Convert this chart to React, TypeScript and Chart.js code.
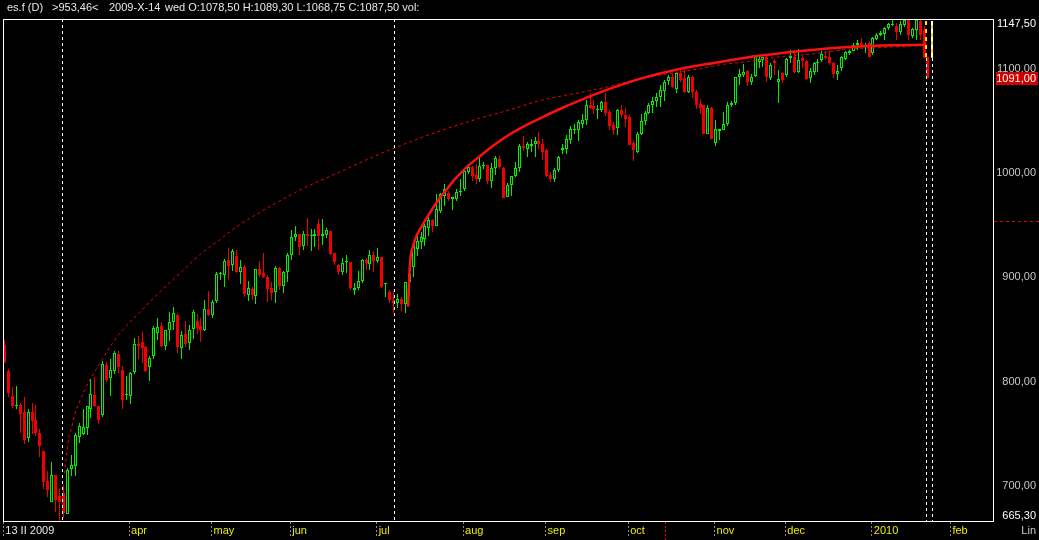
import React, { useEffect, useRef } from 'react';
import { Chart, registerables } from 'chart.js';

Chart.register(...registerables);

// ---- Daily bars (ES continuous), index 0 = 13 II 2009 ----
const opens = [
  834.6, 810.5, 786.3, 776.7, 777.6, 770.8, 745.4, 770.8, 763.1, 750.9,
  733.2, 704.2, 684.2, 710.0, 690.0, 692.9, 672.6, 716.0, 718.7, 747.0,
  749.3, 755.7, 773.4, 787.3, 776.7, 768.0, 816.2, 803.4, 810.5, 826.6,
  811.0, 786.6, 785.7, 808.9, 835.6, 838.1, 833.0, 813.7, 824.3, 846.5,
  853.6, 834.0, 849.1, 857.2, 863.6, 832.4, 845.9, 837.2, 850.7, 857.8,
  853.0, 849.1, 869.4, 863.6, 877.1, 903.2, 902.2, 916.7, 911.9, 920.0,
  905.4, 909.3, 882.9, 888.4, 882.2, 908.0, 903.8, 900.0, 889.3, 886.1,
  908.7, 891.9, 904.5, 920.9, 938.6, 941.8, 929.6, 941.8, 939.6, 939.2,
  950.5, 939.9, 940.9, 944.7, 923.1, 911.9, 905.4, 914.1, 914.4, 888.0,
  889.3, 896.7, 916.0, 912.5, 921.5, 915.1, 919.3, 893.2, 886.1, 878.1,
  875.5, 878.7, 874.2, 895.0, 909.6, 927.0, 933.4, 936.7, 947.3, 954.4,
  949.5, 963.4, 977.9, 981.1, 974.7, 974.7, 981.7, 984.3, 1001.1, 1005.3,
  997.9, 994.0, 1007.0, 1007.6, 992.4, 1004.4, 1013.4, 1004.7, 977.0, 988.6,
  997.3, 1004.4, 1025.6, 1023.0, 1025.6, 1027.2, 1030.4, 1027.9, 1022.1, 997.9,
  994.0, 1002.7, 1022.0, 1023.0, 1031.7, 1040.7, 1041.4, 1047.2, 1050.4, 1064.9,
  1063.9, 1060.0, 1060.0, 1067.5, 1058.4, 1046.2, 1043.3, 1060.7, 1055.9, 1053.6,
  1028.5, 1019.8, 1036.9, 1049.4, 1057.8, 1064.9, 1069.1, 1072.9, 1078.5, 1088.4,
  1091.6, 1080.3, 1095.5, 1090.6, 1077.8, 1092.3, 1077.8, 1065.9, 1064.9, 1037.5,
  1062.6, 1028.5, 1040.1, 1041.4, 1047.0, 1065.0, 1066.5, 1092.2, 1093.8, 1098.0,
  1087.4, 1092.9, 1106.7, 1108.3, 1111.5, 1090.6, 1107.7, 1087.4, 1096.1, 1093.8,
  1110.0, 1110.9, 1097.0, 1110.0, 1107.7, 1090.6, 1097.0, 1105.1, 1108.3, 1112.2,
  1111.5, 1105.1, 1094.5, 1100.3, 1109.0, 1114.8, 1117.3, 1122.8, 1124.4, 1121.2,
  1124.4, 1114.8, 1128.3, 1132.5, 1133.4, 1138.9, 1141.5, 1141.2, 1134.7, 1142.1,
  1147.0, 1130.9, 1137.3, 1145.4, 1137.3, 1111.5,
];
const highs = [
  839.4, 811.7, 795.0, 796.0, 778.9, 785.3, 773.4, 778.9, 777.6, 754.1,
  733.2, 713.9, 722.5, 710.6, 697.7, 701.0, 717.1, 730.0, 750.9, 759.9,
  773.4, 776.7, 802.4, 804.0, 776.7, 819.5, 818.5, 821.7, 829.2, 828.8,
  815.0, 805.6, 809.5, 841.7, 843.3, 847.8, 833.6, 824.6, 853.3, 860.4,
  856.8, 849.1, 866.2, 871.0, 865.2, 848.1, 857.8, 853.9, 868.4, 864.6,
  860.4, 878.1, 886.8, 878.1, 904.8, 905.0, 917.4, 928.0, 927.0, 925.7,
  916.7, 911.9, 896.4, 891.0, 908.0, 915.7, 923.1, 902.2, 895.8, 910.9,
  909.6, 906.1, 923.1, 945.7, 948.9, 941.8, 944.7, 956.9, 946.3, 946.3,
  955.3, 956.0, 947.3, 944.7, 923.1, 912.8, 918.3, 921.5, 914.4, 894.2,
  906.1, 917.7, 918.3, 925.7, 924.8, 928.0, 919.3, 894.8, 887.7, 886.8,
  883.5, 880.6, 895.8, 905.0, 932.8, 940.9, 943.1, 950.5, 957.9, 955.3,
  979.5, 981.1, 989.2, 982.7, 976.9, 985.0, 994.0, 1003.6, 1006.9, 1006.9,
  1008.5, 1016.0, 1010.1, 1007.6, 1009.2, 1016.0, 1016.0, 1005.3, 989.9, 997.3,
  1010.1, 1027.9, 1035.3, 1029.5, 1032.7, 1034.3, 1039.1, 1032.0, 1023.0, 1000.5,
  1004.4, 1016.6, 1027.9, 1035.9, 1044.6, 1047.2, 1050.4, 1056.8, 1069.7, 1076.2,
  1069.7, 1064.9, 1069.1, 1076.2, 1060.0, 1048.8, 1061.7, 1064.9, 1062.6, 1055.2,
  1030.4, 1039.1, 1056.8, 1059.4, 1066.5, 1072.9, 1076.8, 1084.2, 1089.3, 1093.9,
  1096.1, 1097.1, 1100.3, 1098.7, 1093.9, 1092.9, 1079.4, 1070.4, 1065.5, 1064.9,
  1063.3, 1050.4, 1042.4, 1058.4, 1068.0, 1069.0, 1092.2, 1099.3, 1104.4, 1098.7,
  1094.8, 1113.1, 1112.2, 1111.5, 1113.1, 1105.1, 1109.0, 1098.7, 1097.0, 1109.9,
  1118.0, 1118.0, 1118.6, 1113.1, 1108.3, 1100.3, 1106.7, 1109.0, 1117.3, 1116.4,
  1117.3, 1106.1, 1103.5, 1112.2, 1116.4, 1118.0, 1124.4, 1127.6, 1129.3, 1124.4,
  1126.0, 1130.2, 1134.1, 1135.7, 1139.9, 1143.7, 1147.5, 1143.7, 1145.4, 1147.5,
  1147.0, 1138.9, 1147.5, 1147.0, 1140.5, 1111.5,
];
const lows = [
  817.5, 784.7, 775.0, 773.4, 750.9, 739.6, 742.2, 749.3, 747.7, 727.4,
  697.1, 689.1, 684.2, 674.6, 665.5, 669.0, 672.6, 709.0, 709.0, 740.6,
  748.6, 748.6, 764.7, 776.0, 759.6, 766.0, 799.8, 785.7, 807.3, 807.9,
  774.1, 782.5, 778.2, 807.3, 821.1, 817.6, 808.9, 800.8, 821.7, 839.4,
  833.0, 829.8, 838.8, 849.1, 827.2, 821.7, 833.0, 829.8, 840.4, 845.9,
  837.8, 848.1, 862.6, 861.0, 874.9, 897.0, 891.0, 897.4, 906.4, 903.8,
  893.5, 881.0, 877.4, 878.1, 874.2, 900.6, 899.0, 876.5, 878.1, 875.5,
  887.7, 885.1, 895.8, 916.1, 934.4, 921.5, 926.4, 930.2, 924.8, 928.9,
  926.4, 931.2, 937.6, 921.5, 911.9, 902.2, 902.2, 903.8, 887.7, 882.9,
  887.7, 894.2, 907.0, 907.0, 905.4, 913.5, 889.3, 881.3, 874.9, 865.2,
  870.0, 867.4, 865.2, 889.0, 900.0, 919.9, 927.0, 930.2, 939.2, 943.1,
  948.9, 961.8, 968.2, 973.0, 964.4, 973.0, 977.9, 982.7, 998.8, 992.4,
  989.2, 990.8, 1003.7, 989.2, 985.4, 998.2, 1003.7, 975.7, 977.0, 978.0,
  995.7, 1000.5, 1021.4, 1015.0, 1019.8, 1015.0, 1023.0, 1012.4, 995.7, 991.5,
  991.5, 1000.5, 1018.2, 1018.2, 1027.2, 1037.5, 1030.4, 1043.3, 1045.6, 1061.0,
  1056.8, 1052.0, 1058.4, 1054.6, 1040.7, 1035.9, 1035.9, 1053.0, 1044.0, 1026.3,
  1011.8, 1018.8, 1035.9, 1045.6, 1056.8, 1057.8, 1063.3, 1063.3, 1068.75, 1084.2,
  1081.0, 1076.8, 1087.4, 1076.8, 1076.8, 1071.3, 1061.7, 1056.8, 1037.0, 1036.9,
  1032.0, 1025.3, 1031.7, 1040.7, 1045.0, 1063.0, 1064.9, 1084.2, 1092.2, 1083.2,
  1084.2, 1092.2, 1100.3, 1101.9, 1087.4, 1089.0, 1093.8, 1066.5, 1085.8, 1092.2,
  1105.7, 1096.1, 1096.1, 1100.3, 1089.0, 1085.8, 1093.8, 1097.0, 1106.7, 1108.3,
  1103.5, 1090.6, 1089.0, 1098.0, 1108.3, 1113.1, 1116.4, 1118.0, 1120.2, 1114.8,
  1110.9, 1113.1, 1127.0, 1130.9, 1127.6, 1137.3, 1140.5, 1127.6, 1132.5, 1139.9,
  1127.6, 1129.3, 1127.6, 1127.6, 1109.9, 1090.6,
];
const closes = [
  818.5, 788.6, 776.7, 777.6, 768.6, 743.8, 770.8, 762.2, 750.9, 738.0,
  703.6, 695.5, 710.6, 686.5, 684.0, 673.5, 715.5, 720.0, 748.6, 757.3,
  756.3, 776.7, 787.9, 776.7, 762.8, 816.9, 801.8, 811.0, 827.5, 814.3,
  782.5, 787.3, 808.2, 836.2, 834.0, 831.7, 809.8, 822.7, 851.7, 852.3,
  834.0, 849.1, 857.5, 865.2, 833.0, 844.9, 836.2, 849.7, 866.8, 851.4,
  849.1, 869.4, 863.6, 876.5, 903.2, 904.0, 915.1, 910.3, 924.8, 905.0,
  909.6, 883.9, 889.7, 882.9, 908.0, 902.2, 900.0, 888.7, 884.5, 908.7,
  891.6, 904.8, 921.2, 938.6, 941.5, 928.9, 941.8, 939.9, 940.3, 941.8,
  939.9, 941.8, 945.7, 922.5, 914.1, 905.4, 913.5, 915.7, 889.3, 889.9,
  896.4, 916.0, 913.5, 921.5, 915.7, 919.3, 891.0, 894.8, 878.1, 874.9,
  879.0, 874.2, 895.1, 903.0, 931.2, 934.4, 938.6, 948.9, 954.4, 948.9,
  965.0, 979.5, 984.3, 974.7, 976.9, 981.7, 982.7, 1002.0, 1005.3, 997.2,
  994.0, 1006.3, 1007.9, 992.4, 1004.4, 1014.0, 1005.3, 976.3, 988.3, 996.6,
  1004.4, 1025.6, 1024.0, 1027.2, 1027.9, 1030.4, 1027.2, 1019.8, 996.6, 994.0,
  1002.7, 1015.0, 1024.0, 1032.7, 1042.4, 1042.4, 1048.8, 1050.4, 1064.9, 1062.6,
  1061.0, 1061.6, 1067.5, 1057.8, 1044.6, 1041.4, 1060.7, 1055.2, 1052.0, 1026.9,
  1022.1, 1037.5, 1049.8, 1057.8, 1064.9, 1069.1, 1072.9, 1079.4, 1087.5, 1091.6,
  1082.6, 1095.5, 1089.0, 1077.8, 1092.3, 1077.1, 1064.9, 1062.6, 1037.5, 1062.6,
  1032.7, 1042.4, 1042.4, 1047.2, 1064.9, 1066.5, 1092.2, 1094.8, 1097.0, 1087.4,
  1092.2, 1113.1, 1108.9, 1110.9, 1092.2, 1103.5, 1105.7, 1089.6, 1089.0, 1109.0,
  1112.2, 1097.0, 1108.3, 1107.7, 1089.6, 1098.0, 1105.1, 1106.7, 1113.8, 1109.9,
  1105.1, 1094.5, 1098.0, 1111.5, 1115.4, 1117.3, 1122.8, 1124.4, 1121.2, 1122.8,
  1111.5, 1129.3, 1132.5, 1134.1, 1138.9, 1143.1, 1143.1, 1134.7, 1143.1, 1147.0,
  1132.5, 1137.9, 1147.0, 1132.5, 1109.9, 1091.0,
];

// ---- Date axis ----
const monthTickIdx = [0, 32, 53, 73, 95, 117, 138, 159, 181, 199, 221, 241];
const monthTickLabels = ['13 II 2009', 'apr', 'may', 'jun', 'jul', 'aug', 'sep', 'oct', 'nov', 'dec', '2010', 'feb'];

// ---- Price axis ----
const priceTicks = [700, 800, 900, 1000, 1100];
const priceMin = 665.3;
const priceMax = 1147.5;

// ---- Fitted curves (bar index, price) ----
const trendIdx = [102.7, 103.2, 104.0, 104.9, 106.2, 107.8, 109.5, 111.2, 112.9, 114.6, 116.3, 118.0, 119.7, 124.0, 128.2, 132.4, 136.7, 140.9, 145.2, 153.6, 162.1, 170.6, 179.1, 189.3, 197.8, 206.2, 214.7, 223.2, 234.6];
const trendVal = [871.6, 914.0, 930.0, 940.0, 949.0, 959.0, 969.0, 978.0, 986.0, 994.0, 1000.5, 1007.0, 1012.0, 1025.0, 1036.0, 1045.0, 1053.0, 1060.5, 1067.5, 1080.0, 1090.6, 1098.7, 1104.5, 1110.9, 1114.8, 1118.0, 1120.6, 1122.2, 1122.8];

const arcIdx = [15.3, 16.2, 17.1, 17.9, 19.2, 20.9, 22.6, 24.3, 26.8, 29.4, 34.5, 39.6, 44.7, 49.7, 54.8, 58.7, 67.1, 75.6, 84.1, 92.6, 106.2, 119.7, 128.2, 136.7, 145.2, 153.6, 162.1, 174.9, 183.3, 189.3, 197.8, 206.2, 214.7, 223.2, 234.6];
const arcVal = [712.0, 742.8, 755.7, 768.6, 781.4, 795.9, 807.2, 817.5, 832.9, 846.5, 866.8, 886.1, 903.9, 921.5, 936.0, 947.3, 966.7, 984.3, 998.8, 1013.3, 1034.0, 1051.0, 1060.0, 1069.7, 1076.1, 1082.6, 1090.6, 1098.7, 1104.2, 1106.7, 1111.5, 1114.1, 1118.6, 1120.2, 1122.2];

// ---- Markers / cursor ----
const markerIdx = [14.6, 99.2, 234.6, 236.1];
const endMarkerPrice = 1110;
const cursorIdx = 168;
const cursorPrice = 953.46;
const lastPrice = 1091.0;
const cursorDate = '2009-X-14';
const cursorDay = 'wed';
const symbol = 'es.f (D)';

const X_MIN = -0.38;
const X_MAX = 251.8;

const GREEN = '#00f000';
const RED = '#f00000';
const FONT = '11px "Liberation Sans", Arial, sans-serif';

const fmt = (v: number) => v.toFixed(2).replace('.', ',');
const isUp = (i: number) => closes[i] >= opens[i];

const overlayPlugin = {
  id: 'overlay',
  beforeDraw(chart: any) {
    const { ctx, width, height } = chart;
    ctx.save();
    ctx.fillStyle = '#000';
    ctx.fillRect(0, 0, width, height);
    ctx.restore();
  },
  beforeDatasetsDraw(chart: any) {
    chart.data.datasets.forEach((ds: any, di: number) => {
      if (ds.type !== 'bar') return;
      const meta = chart.getDatasetMeta(di);
      meta.data.forEach((el: any) => {
        el.x = Math.floor(el.x) + 0.5;
        el.y = Math.round(el.y);
        el.base = Math.round(el.base);
      });
    });
  },
  afterDatasetsDraw(chart: any) {
    const { ctx, chartArea } = chart;
    const xs = chart.scales.x;
    const ys = chart.scales.y;
    const { top, bottom, left, right } = chartArea;
    ctx.save();
    ctx.beginPath();
    ctx.rect(left, top, right - left, bottom - top);
    ctx.clip();
    markerIdx.forEach((m, k) => {
      const isEnd = k >= 2;
      const splitY = isEnd ? Math.round(ys.getPixelForValue(endMarkerPrice)) : top;
      const px = Math.round(xs.getPixelForValue(m)) + 0.5;
      ctx.setLineDash([3, 3]);
      ctx.lineWidth = 1;
      ctx.strokeStyle = '#ffffff';
      ctx.beginPath();
      ctx.moveTo(px, splitY);
      ctx.lineTo(px, bottom);
      ctx.stroke();
      if (isEnd) {
        const p2 = Math.round(xs.getPixelForValue(m));
        ctx.lineWidth = 2;
        if (k === 3) {
          ctx.setLineDash([4, 4]);
          ctx.strokeStyle = '#ffffff';
          ctx.beginPath();
          ctx.moveTo(p2, top + 2);
          ctx.lineTo(p2, splitY);
          ctx.stroke();
          ctx.lineDashOffset = 4;
        }
        ctx.setLineDash([4, 4]);
        ctx.strokeStyle = '#ffe000';
        ctx.beginPath();
        ctx.moveTo(p2, top + 2);
        ctx.lineTo(p2, splitY);
        ctx.stroke();
        ctx.lineDashOffset = 0;
      }
    });
    ctx.restore();
  },
  afterDraw(chart: any) {
    const { ctx, chartArea, width, height } = chart;
    const xs = chart.scales.x;
    const ys = chart.scales.y;
    const { top, bottom, left, right } = chartArea;
    ctx.save();
    // frame
    ctx.setLineDash([]);
    ctx.strokeStyle = '#ffffff';
    ctx.lineWidth = 1;
    ctx.strokeRect(left + 0.5, top + 0.5, right - left - 1, bottom - top - 1);

    // cursor marks
    ctx.strokeStyle = '#e00000';
    ctx.setLineDash([2, 2]);
    const cx = Math.round(xs.getPixelForValue(cursorIdx)) + 0.5;
    ctx.beginPath();
    ctx.moveTo(cx, bottom);
    ctx.lineTo(cx, height);
    ctx.stroke();
    const cy = Math.round(ys.getPixelForValue(cursorPrice)) + 0.5;
    ctx.setLineDash([3, 3]);
    ctx.beginPath();
    ctx.moveTo(right, cy);
    ctx.lineTo(width, cy);
    ctx.stroke();
    ctx.setLineDash([]);

    ctx.font = FONT;
    ctx.textBaseline = 'middle';

    // last price box
    const ly = Math.round(ys.getPixelForValue(lastPrice));
    ctx.fillStyle = '#d00000';
    ctx.fillRect(right + 2, ly - 6, width - right - 3, 13);
    ctx.fillStyle = '#ffffff';
    ctx.textAlign = 'right';
    ctx.fillText(fmt(lastPrice), width - 3, ly + 0.5);

    // edge price labels
    ctx.fillStyle = '#ffffff';
    ctx.fillText(fmt(priceMax), width - 3, Math.max(ys.getPixelForValue(priceMax), top + 5));
    ctx.fillText(fmt(priceMin), width - 3, Math.min(ys.getPixelForValue(priceMin), bottom - 6));
    ctx.fillStyle = '#c8c8c8';
    ctx.fillText('Lin', width - 3, bottom + 9);

    // header
    ctx.textAlign = 'left';
    ctx.fillStyle = '#e8e8e8';
    ctx.fillText(symbol, 7, 8);
    ctx.fillText('>' + fmt(cursorPrice) + '<', 52, 8);
    ctx.fillText(cursorDate, 109, 8);
    ctx.fillText(
      `${cursorDay} O:${fmt(opens[cursorIdx])} H:${fmt(highs[cursorIdx])} L:${fmt(lows[cursorIdx])} C:${fmt(closes[cursorIdx])} vol:`,
      165,
      8
    );
    ctx.restore();
  },
};

export default function App() {
  const canvasRef = useRef<HTMLCanvasElement | null>(null);

  useEffect(() => {
    document.body.style.margin = '0';
    document.body.style.background = '#000';
    const canvas = canvasRef.current;
    if (!canvas) return;

    const bodies = opens.map((o, i) => ({ x: i, y: [o, closes[i]] }));
    const wicks = lows.map((l, i) => ({ x: i, y: [l, highs[i]] }));

    const chart = new Chart(canvas, {
      type: 'bar',
      data: {
        datasets: [
          {
            type: 'line',
            label: 'trend',
            data: trendIdx.map((x, i) => ({ x, y: trendVal[i] })),
            borderColor: '#ff1010',
            borderWidth: 2.5,
            pointRadius: 0,
            cubicInterpolationMode: 'monotone',
            order: 0,
          },
          {
            type: 'line',
            label: 'arc',
            data: arcIdx.map((x, i) => ({ x, y: arcVal[i] })),
            borderColor: '#ee0000',
            borderWidth: 1,
            borderDash: [3, 3],
            pointRadius: 0,
            cubicInterpolationMode: 'monotone',
            order: 0,
          },
          {
            type: 'bar',
            label: 'bodies',
            data: bodies,
            backgroundColor: (c: any) => (isUp(c.dataIndex) ? '#000000' : RED),
            borderColor: (c: any) => (isUp(c.dataIndex) ? GREEN : RED),
            borderWidth: (c: any) => (isUp(c.dataIndex) ? 1 : 0),
            borderSkipped: false,
            barThickness: 3,
            minBarLength: 1,
            grouped: false,
            inflateAmount: 0,
            order: 1,
          },
          {
            type: 'bar',
            label: 'wicks',
            data: wicks,
            backgroundColor: (c: any) => (isUp(c.dataIndex) ? GREEN : RED),
            borderWidth: 0,
            barThickness: 1,
            minBarLength: 1,
            grouped: false,
            inflateAmount: 0,
            order: 2,
          },
        ] as any,
      },
      options: {
        responsive: false,
        animation: false,
        devicePixelRatio: 1,
        events: [],
        layout: { padding: { left: 3, top: 19, right: 3, bottom: 0 } },
        plugins: {
          legend: { display: false },
          tooltip: { enabled: false },
          title: { display: false },
        },
        scales: {
          x: {
            type: 'linear',
            position: 'bottom',
            min: X_MIN,
            max: X_MAX,
            offset: false,
            afterBuildTicks: (s: any) => {
              s.ticks = monthTickIdx.map((v) => ({ value: v - 0.3 }));
            },
            afterFit: (s: any) => {
              s.height = 18;
            },
            ticks: {
              autoSkip: false,
              maxRotation: 0,
              minRotation: 0,
              align: 'start',
              labelOffset: 2,
              padding: -12,
              font: { family: '"Liberation Sans", Arial, sans-serif', size: 11 },
              color: (c: any) => (c.index === 0 ? '#e8e8e8' : '#ecec00'),
              callback: (_v: any, i: number) => monthTickLabels[i],
            },
            grid: {
              display: true,
              drawOnChartArea: false,
              drawTicks: true,
              tickLength: 14,
              tickColor: '#8c8c8c',
              tickBorderDash: [2, 2],
              tickWidth: 1,
              offset: false,
            },
            border: { display: false },
          },
          y: {
            type: 'linear',
            position: 'right',
            min: priceMin,
            max: priceMax,
            afterBuildTicks: (s: any) => {
              s.ticks = priceTicks.map((v) => ({ value: v }));
            },
            afterFit: (s: any) => {
              s.width = 42;
            },
            ticks: {
              crossAlign: 'far',
              padding: 0,
              font: { family: '"Liberation Sans", Arial, sans-serif', size: 11 },
              color: '#c8c8c8',
              callback: (v: any) => fmt(Number(v)),
            },
            grid: { display: false, drawTicks: false },
            border: { display: false },
          },
        },
      } as any,
      plugins: [overlayPlugin as any],
    });

    return () => chart.destroy();
  }, []);

  return (
    <div style={{ width: 1039, height: 540, background: '#000' }}>
      <canvas ref={canvasRef} width={1039} height={540} style={{ display: 'block' }} />
    </div>
  );
}
